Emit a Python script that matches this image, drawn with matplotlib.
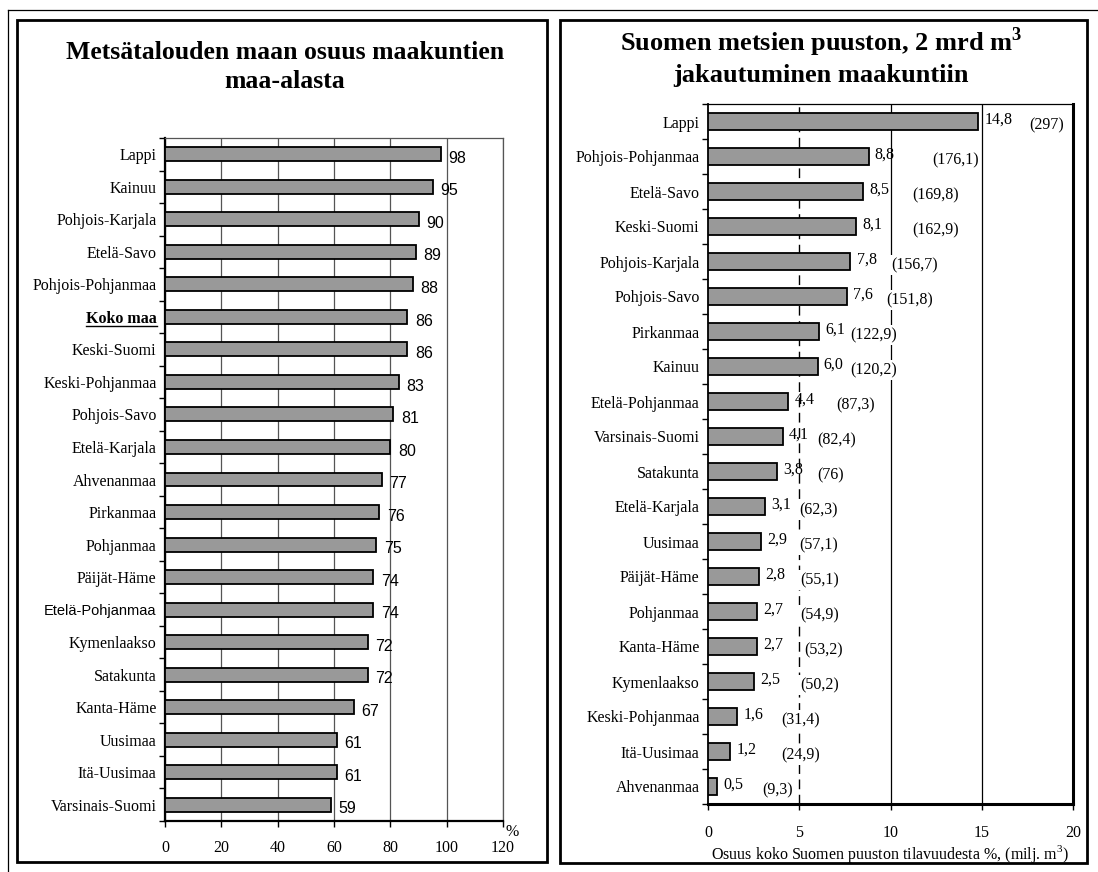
import matplotlib
matplotlib.use("Agg")
import matplotlib.pyplot as plt
from matplotlib.patches import Rectangle
from matplotlib.lines import Line2D
import numpy as np

W, H = 1098, 872

# left chart: forestry land as share of each region's land area (%)
land_regions = ["Lappi", "Kainuu", "Pohjois-Karjala", "Etelä-Savo", "Pohjois-Pohjanmaa",
                "Koko maa", "Keski-Suomi", "Keski-Pohjanmaa", "Pohjois-Savo", "Etelä-Karjala",
                "Ahvenanmaa", "Pirkanmaa", "Pohjanmaa", "Päijät-Häme", "Etelä-Pohjanmaa",
                "Kymenlaakso", "Satakunta", "Kanta-Häme", "Uusimaa", "Itä-Uusimaa",
                "Varsinais-Suomi"]
land_share = [98, 95, 90, 89, 88, 86, 86, 83, 81, 80, 77, 76, 75, 74, 74, 72, 72, 67, 61, 61, 59]

# right chart: share of Finland's growing stock (%) and volume (milj. m3)
stock_regions = ["Lappi", "Pohjois-Pohjanmaa", "Etelä-Savo", "Keski-Suomi", "Pohjois-Karjala",
                 "Pohjois-Savo", "Pirkanmaa", "Kainuu", "Etelä-Pohjanmaa", "Varsinais-Suomi",
                 "Satakunta", "Etelä-Karjala", "Uusimaa", "Päijät-Häme", "Pohjanmaa",
                 "Kanta-Häme", "Kymenlaakso", "Keski-Pohjanmaa", "Itä-Uusimaa", "Ahvenanmaa"]
stock_share = [14.8, 8.8, 8.5, 8.1, 7.8, 7.6, 6.1, 6.0, 4.4, 4.1,
               3.8, 3.1, 2.9, 2.8, 2.7, 2.7, 2.5, 1.6, 1.2, 0.5]
stock_volume = [297, 176.1, 169.8, 162.9, 156.7, 151.8, 122.9, 120.2, 87.3, 82.4,
                76, 62.3, 57.1, 55.1, 54.9, 53.2, 50.2, 31.4, 24.9, 9.3]

# where the (volume) labels start, x in data units (hand placed in the original)
volume_label_x = [17.6, 12.3, 11.2, 11.2, 10.05, 9.75, 7.8, 7.8, 7.05, 6.0,
                  6.0, 5.0, 5.0, 5.05, 5.05, 5.25, 5.05, 4.0, 4.0, 2.95]

SERIF = ["Liberation Serif", "DejaVu Serif"]
SANS = ["Liberation Sans", "DejaVu Sans"]
plt.rcParams["font.family"] = SERIF
plt.rcParams["mathtext.fontset"] = "custom"
plt.rcParams["mathtext.rm"] = "Liberation Serif"
plt.rcParams["mathtext.bf"] = "Liberation Serif:bold"
BAR_GRAY = "#999999"

fig = plt.figure(figsize=(W / 100, H / 100), dpi=100)


def px_axes(x0, y0, x1, y1):
    # axes placed by pixel box (top-left origin like the picture)
    return fig.add_axes([x0 / W, 1 - y1 / H, (x1 - x0) / W, (y1 - y0) / H])


def px_rect(x0, y0, x1, y1, lw):
    fig.add_artist(Rectangle((x0 / W, 1 - y1 / H), (x1 - x0) / W, (y1 - y0) / H,
                             transform=fig.transFigure, fill=False, lw=lw, ec="black"))


# outer thin frame (cut at the right and bottom edge) and the two panels
fig.add_artist(Line2D([8 / W, 1], [1 - 10 / H, 1 - 10 / H], transform=fig.transFigure, lw=0.9, color="black"))
fig.add_artist(Line2D([8 / W, 8 / W], [0, 1 - 10 / H], transform=fig.transFigure, lw=0.9, color="black"))
px_rect(17, 20, 547, 862, 2.0)
px_rect(560, 20, 1087, 863, 2.0)

# ---------------- left chart ----------------
ax1 = px_axes(165, 138, 503, 821)
n1 = len(land_regions)
y1 = np.arange(n1)
ax1.barh(y1, land_share, height=0.43, color=BAR_GRAY, edgecolor="black", linewidth=1.3, zorder=3)
ax1.set_xlim(0, 120)
ax1.set_ylim(n1 - 0.5, -0.5)
ax1.set_xticks(range(0, 121, 20))
ax1.xaxis.grid(True, color="#555555", lw=0.9)
ax1.set_axisbelow(True)
ax1.set_yticks(y1, land_regions, fontsize=11.5)
ax1.set_yticks(np.arange(-0.5, n1), minor=True)
ax1.tick_params(axis="y", which="major", length=0, pad=6)
ax1.tick_params(axis="y", which="minor", length=4, width=1, direction="out")
ax1.tick_params(axis="x", length=4, width=1, pad=10, labelsize=11.5)
for s in ("left", "bottom"):
    ax1.spines[s].set_linewidth(1.6)
for s in ("top", "right"):
    ax1.spines[s].set_linewidth(0.9)
    ax1.spines[s].set_color("#555555")

for i, v in enumerate(land_share):
    ax1.annotate(str(v), (v, i), xytext=(5.5, -3), textcoords="offset points",
                 ha="left", va="center", fontsize=11.5, family=SANS)

ax1.annotate("%", xy=(120, 0), xycoords=("data", "axes fraction"), xytext=(2, -8),
             textcoords="offset points", ha="left", va="center", fontsize=11.5)

lab_koko = ax1.get_yticklabels()[land_regions.index("Koko maa")]
lab_koko.set_fontweight("bold")
lab_ep = ax1.get_yticklabels()[land_regions.index("Etelä-Pohjanmaa")]
lab_ep.set_fontfamily(SANS)
lab_ep.set_fontsize(10.5)

fig.text(285 / W, 1 - 67 / H, "Metsätalouden maan osuus maakuntien\nmaa-alasta",
         ha="center", va="center", fontsize=18.5, fontweight="bold", linespacing=1.35)

# ---------------- right chart ----------------
ax2 = px_axes(708, 104, 1073, 804)
n2 = len(stock_regions)
y2 = np.arange(n2)
ax2.barh(y2, stock_share, height=0.46, color=BAR_GRAY, edgecolor="black", linewidth=1.3, zorder=3)
ax2.set_xlim(0, 20)
ax2.set_ylim(n2 - 0.5, -0.5)
ax2.set_xticks(range(0, 21, 5))
for gx in (10, 15):
    ax2.axvline(gx, color="black", lw=0.9, zorder=1)
ax2.axvline(5, color="black", lw=1.0, ls=(0, (7, 4)), zorder=1)
ax2.set_yticks(y2, stock_regions, fontsize=11.5)
ax2.set_yticks(np.arange(-0.5, n2), minor=True)
ax2.tick_params(axis="y", which="major", length=0, pad=6)
ax2.tick_params(axis="y", which="minor", length=4, width=1, direction="out")
ax2.tick_params(axis="x", length=4, width=1, pad=11, labelsize=11.5)
ax2.spines["left"].set_linewidth(1.3)
ax2.spines["top"].set_linewidth(0.9)
ax2.spines["right"].set_linewidth(2.2)
ax2.spines["bottom"].set_linewidth(2.2)

# x label placed by its centre so the superscript does not push it into the frame
fig.text(890 / W, 1 - 851 / H, r"Osuus koko Suomen puuston tilavuudesta %, (milj. m$^{3}$)",
         ha="center", va="center_baseline", fontsize=11.5)

for i, (v, vol, lx) in enumerate(zip(stock_share, stock_volume, volume_label_x)):
    ax2.annotate(f"{v:.1f}".replace(".", ","), (v, i), xytext=(4.5, 1), textcoords="offset points",
                 ha="left", va="center", fontsize=11.5, zorder=4)
    ax2.annotate("(" + f"{vol:g}".replace(".", ",") + ")", (lx, i), xytext=(0, -2.5),
                 textcoords="offset points", ha="left", va="center", fontsize=11.5, zorder=4,
                 annotation_clip=False,
                 bbox=dict(facecolor="white", edgecolor="none", boxstyle="square,pad=0.15"))

fig.text(821 / W, 1 - 56 / H, "Suomen metsien puuston, 2 mrd m$^{\\mathbf{3}}$\njakautuminen maakuntiin",
         ha="center", va="center", fontsize=19, fontweight="bold", linespacing=1.3)

# underline "Koko maa" like the original
fig.canvas.draw()
bb = lab_koko.get_window_extent()
(ux0, uy), (ux1, _) = fig.transFigure.inverted().transform([(bb.x0, bb.y0 + 1), (bb.x1, bb.y0 + 1)])
fig.add_artist(Line2D([ux0, ux1], [uy, uy], transform=fig.transFigure, lw=1.0, color="black"))

fig.savefig("out.png", dpi=100)
